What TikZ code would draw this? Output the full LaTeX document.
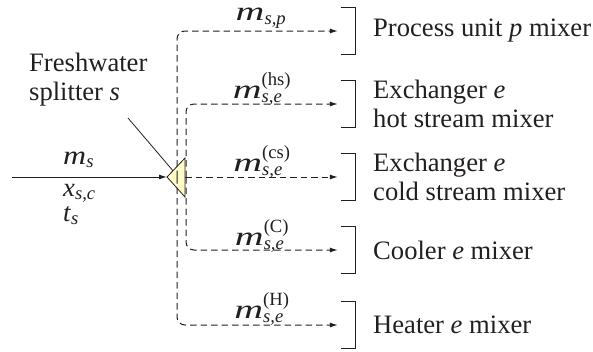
\documentclass[tikz,border=0pt]{standalone}
\usepackage{amsmath}
\usepackage{graphicx}
\usepackage{fontspec}
\setmainfont{Liberation Serif}
\usetikzlibrary{arrows.meta}

\definecolor{ink}{HTML}{231F20}

% wide italic flow symbol m
\newcommand{\wm}[1]{\scalebox{#1}[1]{\textit{m}}}
% flow variable m with subscript and superscript
\newcommand{\flowvar}[2]{\wm{1.5}$_{\textit{#1}}^{\text{#2}}$}

\begin{document}
\begin{tikzpicture}[x=1pt,y=-1pt,
  txt/.style={font=\fontsize{26.6}{29}\selectfont, inner sep=0pt, text=ink},
  flow/.style={line width=1pt, draw=ink, dash pattern=on 6.5pt off 4pt,
               -{Latex[length=8pt,width=5pt]}, rounded corners=8pt},
  feed/.style={line width=1pt, draw=ink, -{Latex[length=8pt,width=5pt]}},
  mixerbox/.style={minimum width=14pt, minimum height=46pt, inner sep=0pt},
  mixerline/.style={line width=1.3pt, draw=ink},
  splitfill/.style={fill=yellow!22, draw=ink, line width=0.8pt}]
\useasboundingbox (0,0) rectangle (593,351);

% splitter geometry
\coordinate (tip) at (167,177);
\coordinate (top) at (185,158);
\coordinate (bot) at (185,197);
\coordinate (src) at (12,177);
\coordinate (outer) at (177,177);
\coordinate (inner) at (186,177);
\coordinate (face) at (185,177);
\path (tip) -- (top) coordinate[pos=0.33] (edge);

% mixers (brackets)
\node[mixerbox] (mx1) at (348,31) {};
\node[mixerbox] (mx2) at (348,104) {};
\node[mixerbox] (mx3) at (348,177) {};
\node[mixerbox] (mx4) at (348,250) {};
\node[mixerbox] (mx5) at (348,325) {};
\foreach \i in {1,...,5}
  \draw[mixerline] (mx\i.north west) -- (mx\i.north east)
                   -- (mx\i.south east) -- (mx\i.south west);

% feed stream into the splitter
\draw[feed] (src) -- (tip);
\draw[splitfill] (tip) -- (top) -- (bot) -- cycle;

% branches
\draw[flow] (outer) |- ([xshift=-3pt]mx1.west);
\draw[flow] (inner) |- ([xshift=-3pt]mx2.west);
\draw[flow] (face) -- ([xshift=-3pt]mx3.west);
\draw[flow] (inner) |- ([xshift=-3pt]mx4.west);
\draw[flow] (outer) |- ([xshift=-3pt]mx5.west);

% branch labels
\node[txt] (f1) at (261,18) {\wm{1.5}$_{\textit{s,p}}$};
\node[txt] (f2) at (262,89) {\flowvar{s,e}{(hs)}};
\node[txt] (f3) at (262,162) {\flowvar{s,e}{(cs)}};
\node[txt] (f4) at (262,236) {\flowvar{s,e}{(C)}};
\node[txt] (f5) at (262,309) {\flowvar{s,e}{(H)}};

% mixer labels
\node[txt, anchor=west] (t1) at (373,31) {Process unit \textit{p} mixer};
\node[txt, anchor=west, align=left] (t2) at (373,104) {Exchanger \textit{e}\\hot stream mixer};
\node[txt, anchor=west, align=left] (t3) at (373,177) {Exchanger \textit{e}\\cold stream mixer};
\node[txt, anchor=west] (t4) at (373,250) {Cooler \textit{e} mixer};
\node[txt, anchor=west] (t5) at (373,325) {Heater \textit{e} mixer};

% feed labels
\node[txt, anchor=base west] (ms) at (63,164) {\wm{1.2}$_{\textit{s}}$};
\node[txt, anchor=base west] (xs) at (63,196) {\textit{x}$_{\textit{s,c}}$};
\node[txt, anchor=base west] (ts) at (63,221) {\textit{t}$_{\textit{s}}$};

% splitter label and pointer
\node[txt, anchor=base west, align=left] (sl) at (29,100) {Freshwater\\splitter \textit{s}};
\coordinate (ptr) at (128,118);
\draw[line width=0.8pt, draw=ink] (ptr) -- (edge);
\end{tikzpicture}
\end{document}
